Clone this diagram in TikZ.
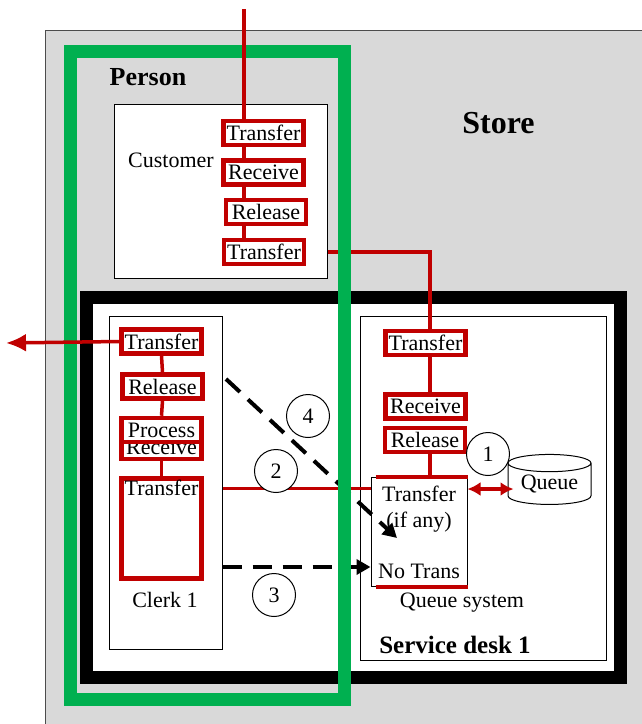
\documentclass[tikz,border=0pt]{standalone}
\usepackage{fontspec}
\setmainfont{Liberation Serif}
\usetikzlibrary{arrows.meta, positioning, shapes.geometric}

\definecolor{deskred}{RGB}{192,0,0}
\definecolor{persongreen}{RGB}{0,176,80}
\definecolor{storegray}{RGB}{217,217,217}

\begin{document}
\begin{tikzpicture}[
		x=1pt, y=-1pt,
		every node/.style={font=\fontsize{22}{26}\selectfont},
		plainbox/.style={draw, fill=white, line width=1pt, inner sep=0pt},
		redbox/.style={draw=deskred, fill=white, line width=4.5pt, minimum width=80pt, minimum height=24pt, inner sep=1pt},
		redline/.style={deskred, line width=3.5pt},
		dashflow/.style={dash pattern=on 19pt off 11pt, line width=4pt, -{Triangle[length=14pt, width=15pt]}},
		numcircle/.style={draw, circle, fill=white, line width=1pt, minimum size=43pt, inner sep=0pt},
		heading/.style={font=\bfseries\fontsize{#1}{#1}\selectfont}
		]
		\useasboundingbox (0,0) rectangle (642,724);
		
		% === STORE AREA ===
		\fill[storegray] (45,30) rectangle (642,724);
		\draw[line width=1pt, black!70] (45,724) |- (642,30);
		\node[heading=32] (store) at (498.5,123) {Store};
		
		% service area frame
		\draw[line width=13pt, fill=white] (86.5,297) rectangle (620.5,677);
		
		% === BOXES ===
		\node[plainbox, minimum width=213pt, minimum height=174pt] (cust) at (220.5,191) {};
		\node (custlbl) at (171,160) {Customer};
		
		\node[plainbox, minimum width=113pt, minimum height=333pt] (clerk) at (165.5,482.5) {};
		\node (clerklbl) at (165,600) {Clerk 1};
		
		\node[plainbox, minimum width=246pt, minimum height=344pt] (desk) at (483,488) {};
		\node (qsyslbl) at (462,603) {Queue system};
		\node[heading=25] (desklbl) at (455,645) {Service desk 1};
		
		% === CUSTOMER STEPS ===
		\coordinate (entry) at (244,9);
		\node[redbox] (ctr1) at (263.5,133) {Transfer};
		\node[redbox] (crec) at (263.5,172.5) {Receive};
		\node[redbox] (crel) at (266,212) {Release};
		\node[redbox] (ctr2) at (264,252) {Transfer};
		\foreach \a/\b in {ctr1/crec, crec/crel, crel/ctr2}
		\draw[redline] (entry |- \a.south) -- (entry |- \b.north);
		
		% === CLERK STEPS ===
		\node[redbox] (ktr1) at (161.5,341.5) {Transfer};
		\node[redbox] (krel) at (162.5,386.5) {Release};
		\node[redbox] (krec) at (161.5,447) {Receive};
		\node[redbox] (kproc) at (161.5,430) {Process};
		\node[redbox, minimum height=100pt,
		label={[name=ktr2t, anchor=north, inner sep=1pt, yshift=-3pt]north:Transfer}] (ktr2) at (161.5,528.5) {};
		\draw[redline] (ktr1.south) -- (krel.north);
		\draw[redline] (krel.south) -- (kproc.north);
		\draw[redline] (krec.south) -- (ktr2.north);
		
		% === DESK STEPS ===
		\coordinate (dspine) at (430,0);
		\node[redbox] (dtr) at (425.5,343) {Transfer};
		\node[redbox] (drec) at (425.5,406.5) {Receive};
		\node[redbox] (drel) at (425,440) {Release};
		\node[plainbox, minimum width=96pt, minimum height=109pt, align=center] (qbox) at (419,532)
		{Transfer\\(if any)\\[25pt]No Trans};
		\draw[redline, line width=4pt] ([xshift=5pt]qbox.north west) -- (qbox.north east);
		\draw[redline, line width=4pt] ([xshift=5pt]qbox.south west) -- (qbox.south east);
		\draw[redline] (dspine |- dtr.south) -- (dspine |- drec.north);
		\draw[redline] (dspine |- drel.south) -- (dspine |- qbox.north);
		\draw[redline] (cust.east |- ctr2) -| (dspine |- dtr.north);
		
		% queue store
		\node[draw, fill=white, line width=1pt, cylinder, shape border rotate=90, aspect=0.3,
		minimum width=83pt, minimum height=50pt, inner sep=0pt] (queue) at (549.5,484) {Queue};
		\coordinate (qarrow) at ([yshift=-5pt, xshift=6pt]queue.west);
		\draw[redline, {Latex[length=13pt, width=14pt]}-{Latex[length=13pt, width=14pt]}]
		(qbox.east |- qarrow) -- (qarrow);
		
		% === FLOWS ===
		\draw[redline] (clerk.east |- ktr2t) -- (qbox.west |- ktr2t);
		\coordinate (notrans) at ([yshift=-35pt]qbox.west);
		\draw[dashflow] (clerk.east |- notrans) -- (notrans);
		\coordinate (d4s) at (226,379);
		\coordinate (d4e) at (397,538);
		\draw[dashflow] (d4s) -- (d4e);
		
		\node[numcircle] (n1) at (488,454) {1};
		\node[numcircle] (n2) at (276,471) {2};
		\node[numcircle] (n3) at (274,595) {3};
		\node[numcircle] (n4) at (308,416) {4};
		
		% === PERSON FRAME ===
		\draw[persongreen, line width=13pt] (70,51.5) rectangle (344.5,699.5);
		\node[heading=26] (person) at (148,77) {Person};
		
		\coordinate (exit) at (6,343);
		\draw[redline] (entry) -- (entry |- ctr1.north);
		\draw[redline, -{Latex[length=20pt, width=18pt]}] (ktr1.west) -- (exit);
		
	\end{tikzpicture}
\end{document}
